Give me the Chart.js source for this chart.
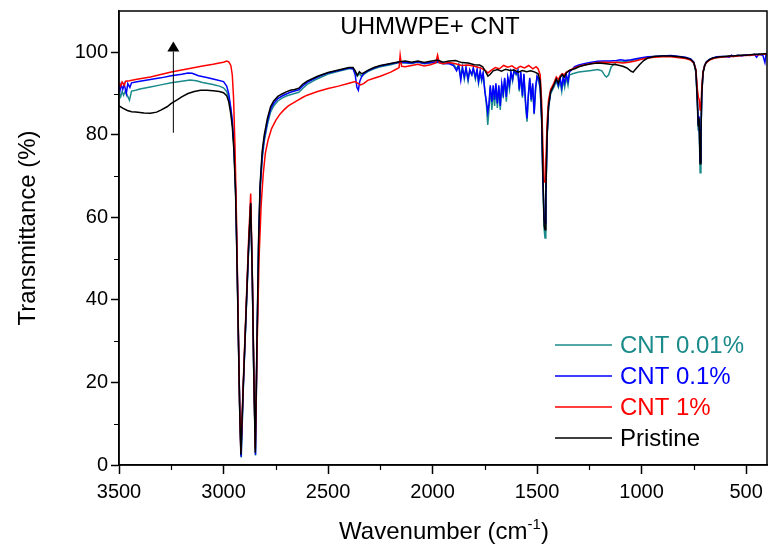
<!DOCTYPE html>
<html>
<head>
<meta charset="utf-8">
<script src="https://cdn.jsdelivr.net/npm/chart.js@4.4.1/dist/chart.umd.min.js"></script>
<style>
  html, body { margin: 0; padding: 0; background: #fff; }
  #wrap { width: 768px; height: 550px; }
</style>
</head>
<body>
<div id="wrap"><canvas id="ftir"></canvas></div>
<script>
// [wavenumber cm-1, transmittance %]
const pristine = [
  [3500, 87.0], [3480, 86.4], [3460, 85.9], [3440, 85.6], [3420, 85.5], [3400, 85.4], [3380, 85.3],
  [3350, 85.2], [3320, 85.5], [3300, 86.0], [3270, 86.8], [3250, 87.6], [3220, 88.5], [3200, 89.2],
  [3170, 90.0], [3140, 90.5], [3110, 90.8], [3080, 90.8], [3050, 90.7], [3020, 90.5], [3000, 90.2],
  [2985, 89.5], [2975, 88.0], [2965, 85.0], [2958, 82.0], [2950, 76.0], [2942, 65.0], [2935, 48.0],
  [2928, 28.0], [2922, 12.0], [2917, 2.5], [2905, 20.0], [2890, 40.0], [2880, 53.0], [2870, 63.5],
  [2862, 45.0], [2855, 22.0], [2848, 3.0], [2840, 30.0], [2832, 55.0], [2825, 68.0], [2815, 76.0],
  [2805, 80.0], [2790, 84.0], [2775, 86.8], [2760, 88.2], [2740, 89.3], [2720, 89.9], [2700, 90.4],
  [2680, 90.8], [2660, 91.0], [2640, 91.3], [2620, 92.3], [2600, 93.0], [2550, 94.2], [2500, 95.1],
  [2450, 95.7], [2400, 96.3], [2380, 96.3], [2370, 95.5], [2360, 94.4], [2350, 95.3], [2340, 94.8],
  [2330, 95.0], [2310, 95.6], [2280, 96.3], [2250, 96.8], [2200, 97.3], [2160, 97.7], [2130, 97.9],
  [2100, 97.6], [2070, 97.9], [2040, 97.5], [2010, 97.8], [1976, 98.1], [1950, 97.6], [1920, 97.9],
  [1890, 98.0], [1860, 97.5], [1830, 97.4], [1800, 97.0], [1775, 96.9], [1760, 96.5], [1745, 95.2],
  [1735, 94.2], [1725, 94.6], [1710, 95.5], [1690, 95.8], [1670, 95.4], [1650, 95.9], [1630, 95.6],
  [1610, 95.7], [1590, 95.2], [1570, 95.6], [1550, 95.3], [1530, 95.5], [1510, 95.2], [1495, 94.8],
  [1485, 93.0], [1478, 85.0], [1472, 70.0], [1466, 58.0], [1462, 57.0], [1458, 66.0], [1452, 80.0],
  [1445, 87.0], [1435, 90.5], [1420, 92.0], [1408, 93.5], [1398, 92.6], [1390, 93.8], [1380, 94.6],
  [1370, 94.0], [1360, 95.0], [1345, 95.6], [1320, 96.0], [1300, 96.5], [1270, 96.9], [1240, 97.2],
  [1210, 97.4], [1180, 97.3], [1150, 97.1], [1120, 97.0], [1090, 96.6], [1070, 96.2], [1050, 95.4],
  [1040, 95.2], [1030, 95.8], [1010, 97.0], [990, 98.0], [970, 98.6], [940, 99.0], [900, 99.1],
  [860, 99.1], [820, 98.9], [790, 98.7], [765, 98.3], [750, 97.5], [740, 95.5], [733, 88.0],
  [729, 82.0], [725, 84.0], [720, 73.0], [716, 80.0], [712, 90.0], [706, 95.0], [698, 96.8],
  [690, 97.6], [675, 98.2], [660, 98.6], [640, 98.8], [620, 98.9], [600, 99.0], [580, 99.1],
  [560, 99.1], [540, 99.2], [520, 99.3], [500, 99.3], [480, 99.4], [460, 99.5], [440, 99.5],
  [420, 99.6], [400, 99.7]
];

const cnt1 = [
  [3500, 92.5], [3492, 91.8], [3485, 92.8], [3475, 92.0], [3468, 93.0], [3450, 93.1], [3420, 93.4],
  [3400, 93.6], [3350, 94.0], [3300, 94.6], [3250, 95.2], [3200, 95.7], [3150, 96.2], [3100, 96.7],
  [3050, 97.1], [3020, 97.4], [3000, 97.6], [2985, 97.9], [2975, 97.7], [2965, 96.8], [2958, 94.5],
  [2952, 89.0], [2945, 77.0], [2938, 60.0], [2930, 36.0], [2923, 15.0], [2917, 3.2], [2905, 20.5],
  [2890, 41.0], [2880, 54.5], [2870, 65.8], [2862, 46.0], [2855, 23.0], [2848, 4.0], [2840, 27.0],
  [2830, 50.0], [2820, 63.0], [2810, 70.5], [2800, 75.5], [2787, 78.7], [2770, 81.5], [2750, 83.5],
  [2730, 85.0], [2710, 86.1], [2690, 87.0], [2670, 87.6], [2650, 88.2], [2620, 89.1], [2600, 89.6],
  [2550, 90.5], [2500, 91.2], [2450, 91.8], [2400, 92.5], [2370, 92.9], [2345, 92.1], [2330, 92.4],
  [2310, 93.2], [2280, 93.7], [2250, 94.2], [2200, 95.2], [2170, 96.0], [2160, 96.3], [2155, 99.3],
  [2148, 96.6], [2130, 96.5], [2100, 96.8], [2070, 97.1], [2040, 96.7], [2010, 97.0], [1985, 97.4],
  [1976, 99.3], [1968, 97.5], [1950, 97.2], [1920, 97.5], [1890, 97.2], [1860, 96.8], [1830, 96.9],
  [1800, 96.6], [1770, 96.2], [1745, 95.5], [1735, 95.0], [1720, 95.6], [1700, 96.3], [1680, 96.0],
  [1660, 96.8], [1640, 96.4], [1620, 96.7], [1600, 96.0], [1580, 96.6], [1560, 96.2], [1540, 96.8],
  [1520, 96.0], [1505, 96.5], [1495, 96.0], [1485, 94.5], [1478, 88.0], [1472, 77.0], [1466, 69.0],
  [1462, 68.5], [1458, 73.0], [1452, 83.0], [1445, 88.5], [1435, 91.0], [1420, 92.5], [1408, 94.0],
  [1398, 93.4], [1390, 94.2], [1380, 94.8], [1370, 94.5], [1360, 95.2], [1345, 95.6], [1320, 96.2],
  [1300, 96.6], [1270, 97.0], [1240, 97.3], [1210, 97.5], [1180, 97.6], [1150, 97.5], [1120, 97.6],
  [1090, 97.4], [1060, 97.6], [1030, 97.9], [1000, 98.3], [970, 98.6], [940, 98.8], [900, 98.9],
  [860, 98.9], [820, 98.7], [790, 98.5], [765, 98.1], [750, 97.4], [740, 95.8], [733, 91.0],
  [728, 89.0], [724, 88.5], [720, 86.0], [716, 86.5], [712, 91.5], [706, 95.3], [698, 96.8],
  [690, 97.5], [675, 98.1], [660, 98.4], [640, 98.7], [620, 98.8], [600, 98.9], [580, 99.0],
  [560, 99.0], [540, 99.1], [520, 99.2], [500, 99.2], [480, 99.3], [460, 99.4], [440, 99.4],
  [420, 99.5], [400, 99.6]
];

const cnt01 = [
  [3500, 92.0], [3495, 90.8], [3490, 92.2], [3482, 91.0], [3475, 92.3], [3465, 90.0], [3458, 92.4],
  [3448, 91.5], [3440, 92.6], [3420, 92.8], [3400, 93.0], [3350, 93.4], [3300, 93.8], [3250, 94.3],
  [3200, 94.7], [3170, 95.0], [3150, 94.9], [3120, 94.3], [3080, 93.9], [3040, 93.4], [3000, 92.9],
  [2985, 91.8], [2975, 90.0], [2965, 86.5], [2958, 83.5], [2950, 77.5], [2942, 66.5], [2935, 49.5],
  [2928, 29.0], [2922, 12.0], [2916, 2.0], [2905, 19.5], [2890, 39.5], [2880, 52.5], [2870, 63.3],
  [2862, 44.5], [2855, 21.5], [2847, 2.5], [2840, 29.0], [2832, 54.0], [2825, 67.0], [2815, 75.0],
  [2805, 79.2], [2790, 83.2], [2775, 86.2], [2760, 87.6], [2740, 88.8], [2720, 89.4], [2700, 89.9],
  [2680, 90.3], [2660, 90.6], [2640, 90.9], [2620, 91.9], [2600, 92.7], [2550, 94.0], [2500, 95.0],
  [2450, 95.6], [2400, 96.2], [2380, 96.0], [2370, 94.5], [2362, 91.5], [2355, 90.8], [2348, 93.0],
  [2340, 94.0], [2330, 94.8], [2310, 95.5], [2280, 96.2], [2250, 96.7], [2200, 97.2], [2160, 97.6],
  [2130, 97.5], [2100, 97.4], [2070, 97.7], [2040, 97.3], [2010, 97.5], [1976, 97.7], [1950, 97.3],
  [1920, 97.2], [1900, 96.8], [1885, 95.5], [1875, 96.8], [1865, 93.2], [1857, 96.2], [1848, 94.0],
  [1840, 96.3], [1830, 93.5], [1822, 95.8], [1812, 94.6], [1805, 96.2], [1795, 94.0], [1787, 95.8],
  [1780, 93.0], [1772, 95.5], [1765, 93.5], [1758, 95.0], [1750, 90.5], [1742, 88.0], [1736, 85.5],
  [1730, 87.5], [1724, 92.0], [1716, 88.0], [1710, 92.0], [1703, 88.5], [1697, 92.5], [1690, 87.6],
  [1683, 92.0], [1676, 87.0], [1669, 92.5], [1662, 90.0], [1655, 93.8], [1647, 89.2], [1640, 94.0],
  [1632, 92.0], [1625, 95.2], [1617, 93.5], [1610, 95.6], [1600, 94.8], [1592, 95.6], [1585, 91.0],
  [1578, 95.2], [1570, 89.5], [1563, 94.8], [1555, 88.0], [1548, 84.0], [1542, 89.5], [1535, 93.8],
  [1528, 88.5], [1521, 92.5], [1514, 85.2], [1507, 91.5], [1500, 94.2], [1492, 93.5], [1485, 91.5],
  [1478, 84.0], [1472, 69.0], [1466, 59.5], [1462, 58.5], [1458, 65.5], [1452, 80.0], [1445, 87.0],
  [1435, 90.5], [1420, 92.0], [1408, 93.5], [1398, 92.0], [1390, 93.8], [1382, 91.5], [1375, 94.0],
  [1368, 92.5], [1360, 94.6], [1352, 93.0], [1345, 95.2], [1330, 96.0], [1320, 96.5], [1300, 96.9],
  [1270, 97.3], [1240, 97.6], [1210, 97.8], [1180, 97.9], [1150, 97.9], [1120, 98.0], [1100, 98.2],
  [1080, 98.0], [1050, 98.2], [1020, 98.5], [1000, 98.7], [970, 98.9], [940, 99.0], [900, 99.1],
  [860, 99.2], [820, 99.0], [790, 98.8], [765, 98.4], [750, 97.6], [740, 95.5], [733, 88.5],
  [729, 82.5], [725, 84.5], [720, 73.5], [716, 80.5], [712, 90.0], [706, 95.2], [698, 96.9],
  [690, 97.7], [675, 98.3], [660, 98.6], [640, 98.9], [620, 99.0], [600, 99.0], [580, 98.8],
  [570, 99.3], [560, 99.0], [540, 99.3], [520, 99.1], [500, 99.4], [480, 99.2], [460, 99.5],
  [450, 98.8], [440, 99.5], [420, 99.3], [410, 97.5], [405, 99.4], [400, 99.6]
];

const cnt001 = [
  [3500, 90.3], [3492, 89.2], [3485, 90.5], [3478, 89.6], [3470, 90.6], [3450, 88.4], [3440, 90.6],
  [3420, 90.8], [3400, 91.1], [3350, 91.6], [3300, 92.1], [3250, 92.6], [3200, 93.0], [3160, 93.3],
  [3130, 93.1], [3100, 92.7], [3050, 92.2], [3020, 91.8], [3000, 91.4], [2985, 90.5], [2975, 89.0],
  [2965, 86.0], [2958, 83.0], [2950, 77.0], [2942, 66.0], [2935, 49.0], [2928, 29.0], [2922, 12.0],
  [2915, 1.8], [2905, 19.0], [2890, 39.0], [2880, 52.0], [2870, 63.0], [2862, 44.0], [2855, 21.0],
  [2847, 2.3], [2840, 28.0], [2832, 53.0], [2825, 66.0], [2815, 74.0], [2805, 78.5], [2790, 82.5],
  [2775, 85.5], [2760, 87.0], [2740, 88.2], [2720, 88.9], [2700, 89.4], [2680, 89.7], [2660, 90.0],
  [2640, 90.3], [2620, 91.3], [2600, 92.2], [2550, 93.6], [2500, 94.7], [2450, 95.4], [2400, 96.0],
  [2380, 96.0], [2370, 95.2], [2360, 94.2], [2350, 94.8], [2340, 94.2], [2330, 94.6], [2310, 95.3],
  [2280, 96.0], [2250, 96.5], [2200, 97.0], [2160, 97.5], [2130, 97.4], [2100, 97.3], [2070, 97.6],
  [2040, 97.2], [2010, 97.4], [1976, 97.6], [1950, 97.2], [1920, 97.4], [1900, 97.1], [1885, 96.0],
  [1875, 97.0], [1865, 94.0], [1857, 96.5], [1848, 93.5], [1840, 96.0], [1830, 93.0], [1822, 95.5],
  [1812, 94.5], [1805, 96.0], [1795, 93.5], [1787, 95.5], [1780, 92.5], [1772, 95.0], [1765, 93.0],
  [1758, 94.8], [1750, 91.0], [1742, 87.0], [1736, 82.4], [1730, 86.0], [1724, 91.5], [1716, 86.0],
  [1710, 91.0], [1703, 87.0], [1697, 92.0], [1690, 86.5], [1683, 91.5], [1676, 86.0], [1669, 92.0],
  [1662, 89.0], [1655, 93.5], [1647, 88.0], [1640, 93.5], [1632, 91.0], [1625, 95.0], [1617, 93.0],
  [1610, 95.5], [1600, 94.5], [1592, 95.5], [1585, 90.5], [1578, 95.0], [1570, 89.0], [1563, 94.5],
  [1555, 87.0], [1548, 83.2], [1542, 89.0], [1535, 93.5], [1528, 88.0], [1521, 92.0], [1514, 85.0],
  [1507, 91.0], [1500, 94.0], [1492, 93.0], [1485, 91.0], [1478, 83.0], [1472, 68.0], [1466, 57.0],
  [1462, 55.0], [1458, 64.0], [1452, 79.0], [1445, 86.5], [1435, 90.0], [1420, 91.5], [1408, 93.0],
  [1398, 91.5], [1390, 93.0], [1382, 90.5], [1375, 93.5], [1368, 91.5], [1360, 94.0], [1352, 92.0],
  [1345, 94.5], [1330, 94.8], [1300, 95.2], [1270, 95.4], [1240, 95.6], [1210, 95.8], [1190, 95.5],
  [1175, 94.3], [1168, 94.0], [1158, 94.5], [1145, 96.5], [1120, 97.6], [1090, 97.7], [1060, 97.9],
  [1030, 98.2], [1000, 98.5], [970, 98.8], [940, 99.0], [900, 99.1], [860, 99.1], [820, 98.9],
  [790, 98.6], [765, 98.2], [750, 97.3], [740, 95.0], [733, 87.0], [729, 81.0], [725, 83.0],
  [720, 70.8], [716, 79.0], [712, 89.5], [706, 95.0], [698, 96.8], [690, 97.6], [675, 98.2],
  [660, 98.5], [640, 98.7], [620, 98.9], [600, 99.0], [580, 99.1], [560, 99.1], [540, 99.2],
  [520, 99.3], [500, 99.3], [480, 99.4], [460, 99.4], [440, 99.5], [420, 99.5], [400, 99.6]
];

const xTickValues = [3500, 3250, 3000, 2750, 2500, 2250, 2000, 1750, 1500, 1250, 1000, 750, 500];
const yTickValues = [0, 10, 20, 30, 40, 50, 60, 70, 80, 90, 100];

// legend order as in the figure (top to bottom)
const legendItems = [
  { label: "CNT 0.01%", color: "#1a8a8a" },
  { label: "CNT 0.1%", color: "#0000ff" },
  { label: "CNT 1%", color: "#ff0000" },
  { label: "Pristine", color: "#000000" }
];

const FONT = "'Liberation Sans', Arial, sans-serif";

function toPoints(pairs) {
  return pairs.map(([x, y]) => ({ x, y }));
}

function line(label, pairs, color) {
  return {
    label,
    data: toPoints(pairs),
    borderColor: color,
    borderWidth: 1.5,
    pointRadius: 0,
    tension: 0,
    fill: false
  };
}

// Axis box, minor ticks, arrow, title, legend and axis titles.
const decorPlugin = {
  id: "decor",
  afterDraw(chart) {
    const { ctx, chartArea: a, scales } = chart;
    const x = scales.x;
    const y = scales.y;
    ctx.save();

    ctx.strokeStyle = "#000";
    ctx.lineWidth = 1.5;
    ctx.strokeRect(a.left, a.top, a.right - a.left, a.bottom - a.top);

    // minor ticks
    ctx.lineWidth = 1.2;
    ctx.beginPath();
    xTickValues.filter((v) => v % 500 !== 0).forEach((v) => {
      const px = Math.round(x.getPixelForValue(v)) + 0.5;
      ctx.moveTo(px, a.bottom);
      ctx.lineTo(px, a.bottom + 5);
    });
    yTickValues.filter((v) => v % 20 !== 0).forEach((v) => {
      const py = Math.round(y.getPixelForValue(v)) + 0.5;
      ctx.moveTo(a.left, py);
      ctx.lineTo(a.left - 5, py);
    });
    ctx.stroke();

    // arrow showing the rising baseline
    const ax = x.getPixelForValue(3240);
    const aBottom = y.getPixelForValue(80.5);
    const aTip = y.getPixelForValue(102.6);
    const aBase = y.getPixelForValue(100.2);
    ctx.lineWidth = 1;
    ctx.beginPath();
    ctx.moveTo(ax, aBottom);
    ctx.lineTo(ax, aBase);
    ctx.stroke();
    ctx.fillStyle = "#000";
    ctx.beginPath();
    ctx.moveTo(ax, aTip);
    ctx.lineTo(ax - 6, aBase);
    ctx.lineTo(ax + 6, aBase);
    ctx.closePath();
    ctx.fill();

    // title inside the plot
    ctx.font = "24px " + FONT;
    ctx.textAlign = "center";
    ctx.textBaseline = "middle";
    ctx.fillText("UHMWPE+ CNT", 430, 27);

    // legend
    ctx.textAlign = "left";
    ctx.font = "24px " + FONT;
    legendItems.forEach((item, i) => {
      const ly = 345 + i * 31;
      ctx.strokeStyle = item.color;
      ctx.lineWidth = 1.5;
      ctx.beginPath();
      ctx.moveTo(555, ly);
      ctx.lineTo(612, ly);
      ctx.stroke();
      ctx.fillStyle = item.color;
      ctx.fillText(item.label, 620, ly + 1);
    });

    // y axis title
    ctx.fillStyle = "#000";
    ctx.font = "24px " + FONT;
    ctx.save();
    ctx.translate(28, 228);
    ctx.rotate(-Math.PI / 2);
    ctx.textAlign = "center";
    ctx.fillText("Transmittance (%)", 0, 0);
    ctx.restore();

    // x axis title with superscript
    ctx.textAlign = "left";
    ctx.textBaseline = "alphabetic";
    const main = "Wavenumber (cm";
    const sup = "-1";
    const tail = ")";
    ctx.font = "24px " + FONT;
    const wMain = ctx.measureText(main).width;
    const wTail = ctx.measureText(tail).width;
    ctx.font = "15px " + FONT;
    const wSup = ctx.measureText(sup).width;
    const total = wMain + wSup + wTail;
    const sx = 444 - total / 2;
    const base = 539;
    ctx.font = "24px " + FONT;
    ctx.fillText(main, sx, base);
    ctx.font = "15px " + FONT;
    ctx.fillText(sup, sx + wMain, base - 10);
    ctx.font = "24px " + FONT;
    ctx.fillText(tail, sx + wMain + wSup, base);

    ctx.restore();
  }
};

new Chart(document.getElementById("ftir"), {
  type: "line",
  data: {
    datasets: [
      line("Pristine", pristine, "#000000"),
      line("CNT 1%", cnt1, "#ff0000"),
      line("CNT 0.1%", cnt01, "#0000ff"),
      line("CNT 0.01%", cnt001, "#1a8a8a")
    ]
  },
  options: {
    responsive: true,
    maintainAspectRatio: false,
    animation: false,
    layout: { padding: { top: 11, right: 1, left: 0, bottom: 0 } },
    plugins: {
      legend: { display: false },
      tooltip: { enabled: false }
    },
    scales: {
      x: {
        type: "linear",
        reverse: true,
        min: 400,
        max: 3500,
        afterBuildTicks: (scale) => {
          scale.ticks = xTickValues.map((value) => ({ value }));
        },
        afterFit: (scale) => {
          scale.height = 85;
          scale.paddingLeft = 0;
          scale.paddingRight = 0;
        },
        grid: {
          drawOnChartArea: false,
          tickLength: 9,
          tickWidth: 1.5,
          tickColor: (c) => (c.tick && c.tick.value % 500 === 0 ? "#000" : "rgba(0,0,0,0)")
        },
        border: { display: true, color: "#000", width: 1.5 },
        ticks: {
          autoSkip: false,
          maxRotation: 0,
          padding: 6,
          color: "#000",
          font: { family: FONT, size: 20 },
          callback: (v) => (v % 500 === 0 ? String(v) : "")
        }
      },
      y: {
        min: 0,
        max: 110,
        afterBuildTicks: (scale) => {
          scale.ticks = yTickValues.map((value) => ({ value }));
        },
        afterFit: (scale) => {
          scale.width = 119;
          scale.paddingTop = 0;
          scale.paddingBottom = 0;
        },
        grid: {
          drawOnChartArea: false,
          tickLength: 8,
          tickWidth: 1.5,
          tickColor: (c) => (c.tick && c.tick.value % 20 === 0 ? "#000" : "rgba(0,0,0,0)")
        },
        border: { display: true, color: "#000", width: 1.5 },
        ticks: {
          autoSkip: false,
          padding: 3,
          color: "#000",
          font: { family: FONT, size: 20 },
          callback: (v) => (v % 20 === 0 ? String(v) : "")
        }
      }
    }
  },
  plugins: [decorPlugin]
});
</script>
</body>
</html>
